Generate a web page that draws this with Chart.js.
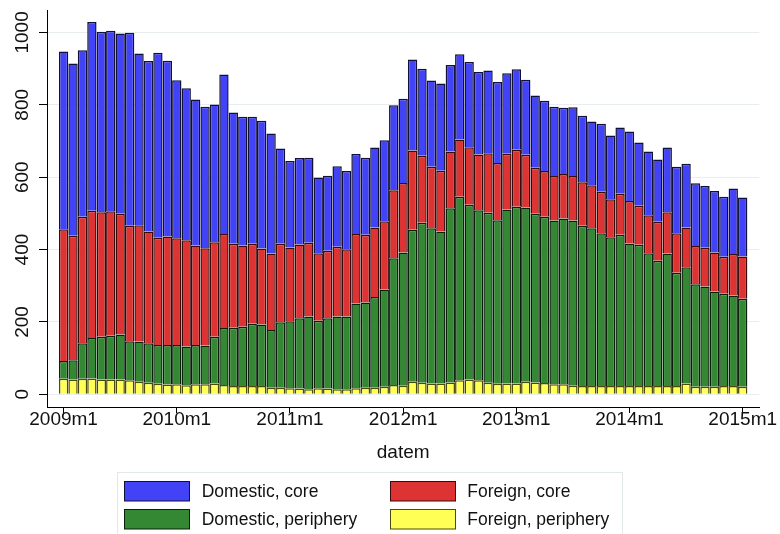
<!DOCTYPE html>
<html>
<head>
<meta charset="utf-8">
<script src="https://cdn.jsdelivr.net/npm/chart.js@4/dist/chart.umd.min.js"></script>
<style>
  html, body { margin: 0; padding: 0; background: #fff; }
  #wrap { width: 780px; height: 534px; position: relative; }
</style>
</head>
<body>
<div id="wrap"><canvas id="myChart"></canvas></div>
<script>
// monthly categories 2009m1 .. 2015m1
const months = Array.from({ length: 73 }, (_, i) => (2009 + Math.floor(i / 12)) + "m" + (i % 12 + 1));
const xTickLabels = ["2009m1", "2010m1", "2011m1", "2012m1", "2013m1", "2014m1", "2015m1"];
const yTicks = [0, 200, 400, 600, 800, 1000];
const xTitle = "datem";

const domesticCore = [491, 476, 460, 522, 499, 499, 498, 533, 475, 471, 511, 486, 437, 420, 404,
  391, 381, 441, 363, 356, 351, 353, 332, 263, 239, 239, 235, 209, 207, 222, 216, 221, 213, 221, 224,
  235, 233, 251, 241, 238, 241, 239, 236, 235, 228, 229, 224, 222, 222, 207, 200, 194, 192, 183, 190,
  184, 176, 188, 176, 183, 192, 175, 176, 172, 179, 184, 176, 173, 171, 170, 166, 181, 163];
const foreignCore = [364, 344, 350, 351, 344, 344, 334, 319, 321, 309, 297, 300, 295, 294, 275,
  269, 261, 260, 232, 224, 221, 210, 211, 217, 204, 204, 204, 187, 187, 193, 186, 192, 187, 192, 188,
  188, 192, 219, 185, 170, 168, 157, 158, 159, 154, 164, 158, 154, 158, 146, 127, 126, 123, 123, 123,
  120, 119, 115, 105, 113, 117, 108, 105, 108, 114, 109, 110, 106, 107, 108, 102, 115, 117];
const domesticPeriphery = [49, 53, 98, 112, 118, 121, 124, 108, 111, 109, 107, 109, 108, 107, 108,
  107, 129, 157, 161, 164, 172, 170, 160, 181, 185, 194, 201, 186, 194, 201, 201, 234, 236, 251, 269,
  350, 368, 420, 442, 429, 420, 481, 507, 483, 470, 470, 452, 481, 488, 481, 466, 460, 452, 458, 456,
  443, 436, 422, 411, 418, 394, 390, 367, 346, 366, 313, 321, 283, 277, 263, 255, 250, 243];
const foreignPeriphery = [43, 41, 43, 44, 41, 41, 41, 39, 35, 32, 29, 27, 28, 25, 28,
  28, 30, 26, 23, 23, 23, 23, 18, 18, 17, 16, 14, 17, 16, 14, 14, 17, 18, 18, 21,
  26, 24, 35, 32, 30, 30, 33, 39, 41, 39, 32, 29, 30, 30, 35, 33, 31, 28, 28, 24,
  23, 23, 23, 23, 23, 23, 23, 23, 23, 23, 23, 30, 21, 21, 21, 23, 23, 21];

const toPoints = arr => arr.map((v, i) => ({ x: i, y: v }));
const fontFamily = '"Liberation Sans", Arial, Helvetica, sans-serif';

// stacking order: first dataset is the bottom
const datasets = [
  { label: "Foreign, periphery", data: toPoints(foreignPeriphery), backgroundColor: "#FFFF55", borderColor: "#4A4A10" },
  { label: "Domestic, periphery", data: toPoints(domesticPeriphery), backgroundColor: "#348834", borderColor: "#0A200A" },
  { label: "Foreign, core", data: toPoints(foreignCore), backgroundColor: "#DD3333", borderColor: "#3A0A0A" },
  { label: "Domestic, core", data: toPoints(domesticCore), backgroundColor: "#4242F6", borderColor: "#10103A" },
];
datasets.forEach(d => {
  d.borderWidth = 1.5;
  d.barPercentage = 0.99;
  d.categoryPercentage = 1;
});

// legend layout: 2 x 2 grid
const legendOrder = ["Domestic, core", "Foreign, core", "Domestic, periphery", "Foreign, periphery"];

const extras = {
  id: "extras",
  beforeDraw(chart) {
    const ctx = chart.ctx;
    ctx.save();
    ctx.fillStyle = "#fff";
    ctx.fillRect(0, 0, chart.width, chart.height);
    ctx.restore();
  },
  afterDraw(chart) {
    const ctx = chart.ctx;
    const ys = chart.scales.y;
    const area = chart.chartArea;
    ctx.save();
    ctx.fillStyle = "#111";
    ctx.font = "19px " + fontFamily;
    ctx.textAlign = "center";
    ctx.textBaseline = "alphabetic";
    yTicks.forEach(v => {
      ctx.save();
      ctx.translate(28.3, ys.getPixelForValue(v));
      ctx.rotate(-Math.PI / 2);
      ctx.fillText(String(v), 0, 0);
      ctx.restore();
    });
    ctx.fillText(xTitle, (area.left + area.right) / 2, 457.5);

    // legend box
    ctx.strokeStyle = "#E2E9EB";
    ctx.lineWidth = 1;
    ctx.strokeRect(117.5, 472.5, 505, 80);
    ctx.font = "17.5px " + fontFamily;
    ctx.textAlign = "left";
    legendOrder.forEach((name, k) => {
      const ds = chart.data.datasets.find(d => d.label === name);
      const col = k % 2, row = Math.floor(k / 2);
      const bx = col ? 390.5 : 124.5;
      const by = row ? 509.5 : 481.5;
      ctx.fillStyle = ds.backgroundColor;
      ctx.fillRect(bx, by, 65, 19.5);
      ctx.strokeStyle = ds.borderColor;
      ctx.strokeRect(bx, by, 65, 19.5);
      ctx.fillStyle = "#111";
      ctx.fillText(name, col ? 467.3 : 201.7, row ? 525.3 : 497.3);
    });
    ctx.restore();
  }
};

const config = {
  type: "bar",
  data: { datasets: datasets },
  options: {
    responsive: true,
    maintainAspectRatio: false,
    animation: false,
    layout: { padding: { left: 0, right: 20.7, top: 10, bottom: 0 } },
    plugins: { legend: { display: false }, tooltip: { enabled: false } },
    scales: {
      x: {
        type: "linear",
        stacked: true,
        offset: false,
        min: -1.76,
        max: 73.76,
        afterBuildTicks: s => { s.ticks = xTickLabels.map(l => ({ value: months.indexOf(l) })); },
        afterFit: s => { s.height = 127; },
        ticks: {
          callback: v => months[v],
          color: "#111",
          font: { size: 19, family: fontFamily },
          padding: -5,
          maxRotation: 0,
          minRotation: 0,
        },
        grid: { offset: false, drawOnChartArea: false, drawTicks: true, tickLength: 6, tickColor: "#000" },
        border: { display: true, color: "#000", width: 1 },
      },
      y: {
        stacked: true,
        min: -35,
        max: 1062,
        afterBuildTicks: s => { s.ticks = yTicks.map(v => ({ value: v })); },
        afterFit: s => { s.width = 47; },
        ticks: { display: false },
        grid: { color: "#E8EEF0", lineWidth: 1, drawTicks: true, tickLength: 8, tickColor: "#000" },
        border: { display: true, color: "#000", width: 1 },
      },
    },
  },
  plugins: [extras],
};

const myChart = new Chart(document.getElementById("myChart"), config);
</script>
</body>
</html>
